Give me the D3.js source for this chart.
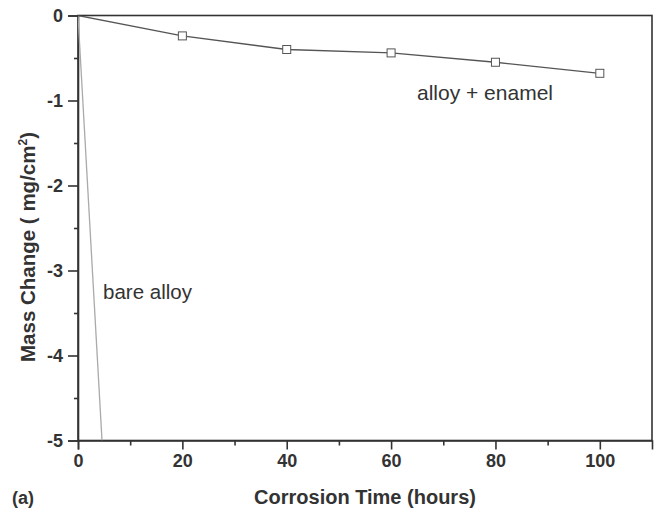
<!DOCTYPE html>
<html>
<head>
<meta charset="utf-8">
<script src="https://cdn.jsdelivr.net/npm/d3@7"></script>
<style>
  body { margin: 0; background: #fff; }
  text { font-family: Arial, "Liberation Sans", sans-serif; }
</style>
</head>
<body>
<div id="chart"></div>
<script>
// enamel-coated alloy
const enamelHours = [0, 20, 40, 60, 80, 100];
const enamelMass = [0, -0.24, -0.40, -0.44, -0.55, -0.68];
// bare alloy (runs off the bottom of the plot)
const bareHours = [0, 4.6];
const bareMass = [0, -5];

const xTicks = [0, 20, 40, 60, 80, 100];
const yTicks = [0, -1, -2, -3, -4, -5];

const width = 654;
const height = 512;
const margin = {top: 15.5, right: 2, bottom: 71.5, left: 78};

const svg = d3.select('#chart').append('svg')
    .attr('width', width)
    .attr('height', height);

const x = d3.scaleLinear()
    .domain([0, 110])
    .range([margin.left, width - margin.right]);

const y = d3.scaleLinear()
    .domain([-5, 0])
    .range([height - margin.bottom, margin.top]);

const fmt = d => String(d);

svg.append('clipPath').attr('id', 'plotClip')
  .append('rect')
    .attr('x', x(0)).attr('y', y(0))
    .attr('width', x(110) - x(0)).attr('height', y(-5) - y(0));

// frame
svg.append('rect')
    .attr('x', x(0)).attr('y', y(0))
    .attr('width', x(110) - x(0)).attr('height', y(-5) - y(0))
    .attr('fill', 'none')
    .attr('stroke', '#333')
    .attr('stroke-width', 1.6);

// x axis
svg.append('g')
    .attr('transform', `translate(0, ${y(-5)})`)
    .call(d3.axisBottom(x).tickValues(xTicks).tickSize(9).tickPadding(5).tickFormat(fmt));
svg.append('g')
    .attr('transform', `translate(0, ${y(-5)})`)
    .call(d3.axisBottom(x).tickValues([10, 30, 50, 70, 90]).tickSize(5).tickFormat(''))
    .call(g => g.select('.domain').remove());

// y axis
svg.append('g')
    .attr('transform', `translate(${x(0)}, 0)`)
    .call(d3.axisLeft(y).tickValues(yTicks).tickSize(10).tickPadding(5).tickFormat(fmt));
svg.append('g')
    .attr('transform', `translate(${x(0)}, 0)`)
    .call(d3.axisLeft(y).tickValues([-0.5, -1.5, -2.5, -3.5, -4.5]).tickSize(4).tickFormat(''))
    .call(g => g.select('.domain').remove());

svg.selectAll('.tick line').attr('stroke', '#333').attr('stroke-width', 1.6);
svg.selectAll('.domain').attr('stroke', '#333').attr('stroke-width', 1.6);
svg.selectAll('.tick text')
    .attr('font-size', 18)
    .attr('font-weight', 'bold')
    .attr('fill', '#333');

const plot = svg.append('g').attr('clip-path', 'url(#plotClip)');

const line = d3.line()
    .x(d => x(d[0]))
    .y(d => y(d[1]));

const bare = bareHours.map((h, i) => [h, bareMass[i]]);
const enamel = enamelHours.map((h, i) => [h, enamelMass[i]]);

plot.append('path')
    .datum(bare)
    .attr('d', line)
    .attr('fill', 'none')
    .attr('stroke', '#aaa')
    .attr('stroke-width', 1.3);

plot.append('path')
    .datum(enamel)
    .attr('d', line)
    .attr('fill', 'none')
    .attr('stroke', '#555')
    .attr('stroke-width', 1.3);

svg.append('g')
    .selectAll('rect')
    .data(enamel.slice(1))
    .join('rect')
      .attr('x', d => x(d[0]) - 4)
      .attr('y', d => y(d[1]) - 4)
      .attr('width', 8)
      .attr('height', 8)
      .attr('fill', '#fff')
      .attr('stroke', '#555')
      .attr('stroke-width', 1);

// annotations
svg.append('text')
    .attr('x', 417).attr('y', 100)
    .attr('font-size', 21)
    .attr('fill', '#333')
    .text('alloy + enamel');

svg.append('text')
    .attr('x', 103).attr('y', 299)
    .attr('font-size', 20.5)
    .attr('fill', '#333')
    .text('bare alloy');

// axis titles
svg.append('text')
    .attr('x', 365).attr('y', 504)
    .attr('text-anchor', 'middle')
    .attr('font-size', 20)
    .attr('font-weight', 'bold')
    .attr('fill', '#333')
    .text('Corrosion Time (hours)');

svg.append('text')
    .attr('x', 12).attr('y', 504)
    .attr('font-size', 18)
    .attr('font-weight', 'bold')
    .attr('fill', '#333')
    .text('(a)');

const yTitle = svg.append('text')
    .attr('transform', 'translate(35, 247) rotate(-90)')
    .attr('text-anchor', 'middle')
    .attr('font-size', 20.5)
    .attr('font-weight', 'bold')
    .attr('fill', '#333');
yTitle.append('tspan').text('Mass Change ( mg/cm');
yTitle.append('tspan').attr('font-size', 12).attr('dy', -8).text('2');
yTitle.append('tspan').attr('dy', 8).text(')');
</script>
</body>
</html>
